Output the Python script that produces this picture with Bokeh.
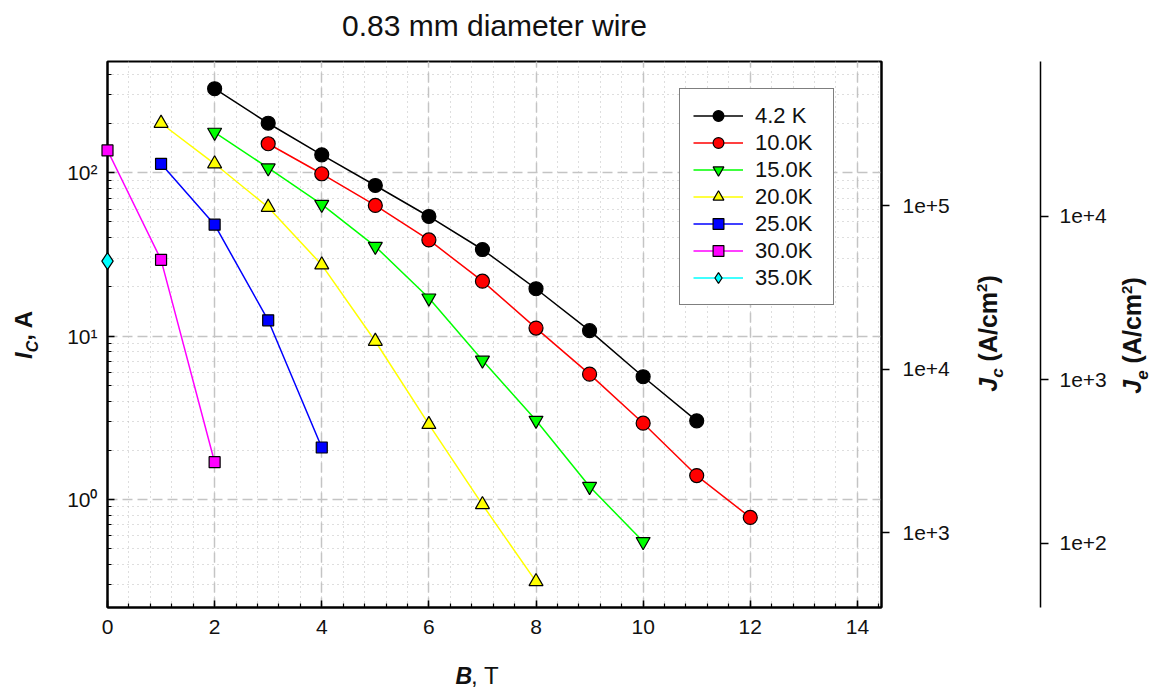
import numpy as np
from bokeh.plotting import figure
from bokeh.models import Range1d, LogScale, LogAxis, FixedTicker, SingleIntervalTicker, ColumnDataSource
from bokeh.core.properties import value
from bokeh.embed import file_html
from bokeh.resources import INLINE

# ---------------- data ----------------
TITLE = "0.83 mm diameter wire"

LABELS = ["4.2 K", "10.0K", "15.0K", "20.0K", "25.0K", "30.0K", "35.0K"]
COLORS = ["#000000", "#FF0000", "#00FF00", "#FFFF00", "#0000FF", "#FF00FF", "#00FFFF"]
MARKERS = ["circle", "circle", "inverted_triangle", "triangle", "square", "square", "diamond"]
MARKER_SIZES = [14, 14, 14, 14, 11, 11, 17]

B_4K2 = [2, 3, 4, 5, 6, 7, 8, 9, 10, 11]
IC_4K2 = [327, 201, 128.8, 83.6, 54.0, 33.9, 19.5, 10.8, 5.64, 3.03]

B_10K = [3, 4, 5, 6, 7, 8, 9, 10, 11, 12]
IC_10K = [150.6, 98.6, 63.1, 38.8, 21.7, 11.2, 5.85, 2.93, 1.40, 0.776]

B_15K = [2, 3, 4, 5, 6, 7, 8, 9, 10]
IC_15K = [177, 107, 64.0, 35.4, 17.1, 7.12, 3.05, 1.20, 0.552]

B_20K = [1, 2, 3, 4, 5, 6, 7, 8]
IC_20K = [201, 113.5, 61.5, 27.3, 9.3, 2.88, 0.93, 0.314]

B_25K = [1, 2, 3, 4]
IC_25K = [113.5, 48.1, 12.5, 2.08]

B_30K = [0, 1, 2]
IC_30K = [137, 29.3, 1.69]

B_35K = [0]
IC_35K = [28.8]

B_SERIES = [B_4K2, B_10K, B_15K, B_20K, B_25K, B_30K, B_35K]
IC_SERIES = [IC_4K2, IC_10K, IC_15K, IC_20K, IC_25K, IC_30K, IC_35K]

X_TICK_LABELS = ["0", "2", "4", "6", "8", "10", "12", "14"]
Y_TICKS = [1, 10, 100]
Y_TICK_LABELS = ["10\u2070", "10\u00b9", "10\u00b2"]
JC_TICKS = [1e3, 1e4, 1e5]
JC_TICK_LABELS = ["1e+3", "1e+4", "1e+5"]
JE_TICKS = [1e2, 1e3, 1e4]
JE_TICK_LABELS = ["1e+2", "1e+3", "1e+4"]

# conversion factors current -> current density
WIRE_DIAM_CM = 0.083
JE_FACTOR = 1.0 / (np.pi * (WIRE_DIAM_CM / 2) ** 2)   # A -> A/cm^2 (whole wire)
JC_FACTOR = 1595.0                                    # A -> A/cm^2 (superconductor)

X_RANGE = (0, 14.45)
Y_RANGE = (0.218, 480)

FONT = "Liberation Sans"
W, H = 1160, 690
FRAME_L, FRAME_R, FRAME_T, FRAME_B = 107, 881, 61, 607

p = figure(width=W, height=H, x_range=Range1d(*X_RANGE), y_range=Range1d(*Y_RANGE),
           y_axis_type="log", output_backend="svg", toolbar_location=None,
           min_border_left=FRAME_L, min_border_top=FRAME_T,
           min_border_bottom=H - FRAME_B, min_border_right=W - FRAME_R)
p.background_fill_color = "white"
p.border_fill_color = "white"
p.outline_line_color = "black"
p.outline_line_width = 2

# ---------------- axes ----------------
xa = p.xaxis[0]
xa.ticker = SingleIntervalTicker(interval=2, num_minor_ticks=5)
xa.major_label_overrides = {float(i * 2): t for i, t in enumerate(X_TICK_LABELS)}
ya = p.yaxis[0]
minor_y = [k * 10.0 ** d for d in (-1, 0, 1, 2) for k in range(2, 10)]
ya.ticker = FixedTicker(ticks=Y_TICKS, minor_ticks=minor_y)
ya.major_label_overrides = {float(v): t for v, t in zip(Y_TICKS, Y_TICK_LABELS)}

for ax in (xa, ya):
    ax.axis_line_color = "black"
    ax.axis_line_width = 2
    ax.major_tick_line_color = "black"
    ax.major_tick_line_width = 1.5
    ax.minor_tick_line_color = "black"
    ax.minor_tick_line_width = 1.2
    ax.major_tick_in = 7
    ax.major_tick_out = 0
    ax.minor_tick_in = 4
    ax.minor_tick_out = 0
    ax.major_label_text_font = FONT
    ax.major_label_text_font_size = "21px"
    ax.major_label_text_color = "#111111"
xa.major_label_standoff = 12
ya.major_label_standoff = 10

for g in (p.xgrid, p.ygrid):
    g.grid_line_color = "#c4c4c4"
    g.grid_line_width = 1.5
    g.grid_line_dash = "10 5"
    g.minor_grid_line_color = "#bcbcbc"
    g.minor_grid_line_width = 1
    g.minor_grid_line_dash = "1 4"

p.extra_y_ranges = {
    "jc": Range1d(Y_RANGE[0] * JC_FACTOR, Y_RANGE[1] * JC_FACTOR),
    "je": Range1d(Y_RANGE[0] * JE_FACTOR, Y_RANGE[1] * JE_FACTOR),
}
p.extra_y_scales = {"jc": LogScale(), "je": LogScale()}


def right_axis(name, ticks, labels, line_width, label_standoff, pad):
    ax = LogAxis(y_range_name=name, ticker=FixedTicker(ticks=ticks, minor_ticks=[]))
    ax.major_label_overrides = {float(v): t for v, t in zip(ticks, labels)}
    ax.axis_line_color = "black"
    ax.axis_line_width = line_width
    ax.major_tick_line_color = "black"
    ax.major_tick_line_width = 1.5
    ax.major_tick_in = 0
    ax.major_tick_out = 8
    ax.minor_tick_in = 0
    ax.minor_tick_out = 0
    ax.major_label_standoff = label_standoff
    ax.major_label_text_font = FONT
    ax.major_label_text_font_size = "21px"
    ax.major_label_text_color = "#111111"
    if pad is not None:
        ax.axis_label = " "
        ax.axis_label_text_font_size = "10px"
        ax.axis_label_standoff = pad
    return ax


p.add_layout(right_axis("jc", JC_TICKS, JC_TICK_LABELS, 2, 13, 74), "right")
p.add_layout(right_axis("je", JE_TICKS, JE_TICK_LABELS, 1.5, 11, None), "right")

# ---------------- series ----------------
for b, ic, lbl, col, mk, sz in zip(B_SERIES, IC_SERIES, LABELS, COLORS, MARKERS, MARKER_SIZES):
    p.line(b, ic, line_color=col, line_width=1.5, legend_label=lbl)
    p.scatter(b, ic, marker=mk, size=sz, fill_color=col,
              line_color="black", line_width=1.2, legend_label=lbl, level="overlay")

leg = p.legend[0]
leg.location = (679 - FRAME_L, FRAME_B - 305)
leg.margin = 0
leg.padding = 13
leg.spacing = 0
leg.glyph_height = 27
leg.glyph_width = 50
leg.label_height = 27
leg.label_width = 65
leg.label_standoff = 12
leg.label_text_font = FONT
leg.label_text_font_size = "22px"
leg.label_text_color = "#111111"
leg.border_line_color = "black"
leg.border_line_width = 1.5
leg.background_fill_color = "white"
leg.background_fill_alpha = 1.0

# ---------------- title and axis titles (rich text built from pieces) ----------------
CHAR_W = {"I": .278, "C": .722, "J": .556, "c": .556, "e": .556, ",": .278, " ": .278,
          "A": .722, "(": .333, ")": .333, "/": .278, "m": .889, "2": .556, "B": .722, "T": .611}


def text_width(t, size):
    return sum(CHAR_W.get(ch, .556) for ch in t) * size


def to_data(px, py):
    """canvas pixel -> data coordinates of the main frame"""
    fx = (px - FRAME_L) / (FRAME_R - FRAME_L)
    fy = (FRAME_B - py) / (FRAME_B - FRAME_T)
    x = X_RANGE[0] + fx * (X_RANGE[1] - X_RANGE[0])
    ly0, ly1 = np.log10(Y_RANGE[0]), np.log10(Y_RANGE[1])
    y = 10 ** (ly0 + fy * (ly1 - ly0))
    return x, y


cols = {"x": [], "y": [], "text": [], "angle": [], "fsize": [], "fstyle": [], "align": []}


def add_piece(px, py, t, size, style, angle, align="left"):
    x, y = to_data(px, py)
    cols["x"].append(x)
    cols["y"].append(y)
    cols["text"].append(t)
    cols["angle"].append(angle)
    cols["fsize"].append(f"{size}px")
    cols["fstyle"].append(style)
    cols["align"].append(align)


def vertical_rich(pieces, center_x, center_y):
    # pieces: (text, size, style, shift, lead) ; lead = blank advance before the piece
    total = sum(text_width(t, s) + ld for t, s, _, _, ld in pieces)
    py = center_y + total / 2
    for t, s, style, shift, ld in pieces:
        py -= ld
        add_piece(center_x + shift, py, t, s, style, np.pi / 2)
        py -= text_width(t, s)


add_piece((FRAME_L + FRAME_R) / 2, 25, TITLE, 30, "normal", 0, "center")

vertical_rich([("I", 24, "bold italic", 0, 0), ("C", 16, "bold italic", 9, 0),
               (", A", 24, "bold", 0, 0)], 23, 334)
SP25 = text_width(" ", 25)
vertical_rich([("J", 25, "bold italic", 0, 0), ("c", 17, "bold italic", 10, 0),
               ("(A/cm", 25, "bold", 0, SP25), ("2", 15, "bold", -6, 0),
               (")", 25, "bold", 0, 0)], 987, 333)
vertical_rich([("J", 25, "bold italic", 0, 0), ("e", 17, "bold italic", 10, 0),
               ("(A/cm", 25, "bold", 0, SP25), ("2", 15, "bold", -5, 0),
               (")", 25, "bold", 0, 0)], 1131, 335)

add_piece(455, 675, "B", 23, "bold italic", 0)
add_piece(455 + text_width("B", 23) - 1, 675, ", T", 24, "normal", 0)

src = ColumnDataSource(cols)
p.text(x="x", y="y", text="text", angle="angle", text_font_size="fsize",
       text_font_style="fstyle", text_align="align", text_font=value(FONT),
       text_baseline="middle", text_color="#111111", source=src, level="overlay")

open("out.html", "w").write(file_html(p, INLINE))
